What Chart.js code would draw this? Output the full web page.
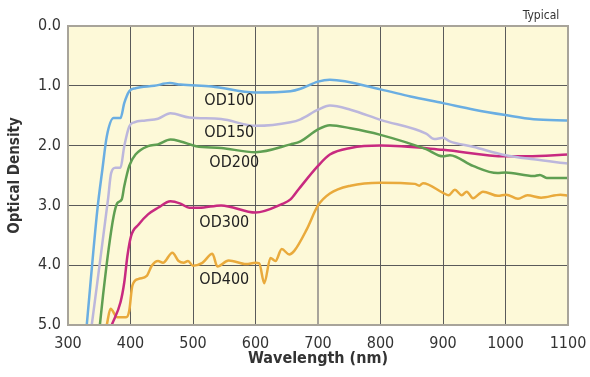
<!DOCTYPE html>
<html>
<head>
<meta charset="utf-8">
<script src="https://cdn.jsdelivr.net/npm/chart.js@4/dist/chart.umd.min.js"></script>
<style>
  body { margin: 0; background: #fff; }
  canvas { display: block; }
</style>
</head>
<body>
<canvas id="odChart" width="590" height="377"></canvas>
<script>
// wavelength (nm) / optical density readings per filter
const od100X = [330, 347, 355, 362, 373, 384, 390, 398, 408, 438, 463, 480, 530, 600, 656, 672, 700, 719, 800, 848, 900, 950, 1000, 1045, 1100];
const od100Y = [5.0, 3.07, 2.4, 1.85, 1.54, 1.54, 1.29, 1.09, 1.04, 1.0, 0.955, 0.98, 1.01, 1.11, 1.09, 1.05, 0.93, 0.9, 1.06, 1.18, 1.29, 1.40, 1.49, 1.56, 1.58];

const od150X = [338, 364, 369, 376, 384, 390, 398, 406, 424, 444, 464, 494, 545, 600, 656, 672, 700, 719, 752, 800, 873, 886, 900, 911, 948, 1000, 1045, 1100];
const od150Y = [5.0, 2.9, 2.46, 2.37, 2.37, 2.01, 1.68, 1.61, 1.58, 1.55, 1.46, 1.53, 1.555, 1.67, 1.61, 1.56, 1.40, 1.33, 1.40, 1.57, 1.80, 1.89, 1.87, 1.93, 2.02, 2.16, 2.23, 2.30];

const od200X = [351, 356, 365, 373, 379, 386, 390, 398, 408, 428, 444, 464, 480, 505, 545, 600, 656, 672, 700, 719, 752, 800, 873, 900, 911, 948, 987, 1000, 1045, 1055, 1066, 1100];
const od200Y = [5.0, 4.51, 3.73, 3.18, 2.96, 2.9, 2.68, 2.34, 2.15, 2.01, 1.98, 1.9, 1.93, 2.01, 2.04, 2.11, 1.98, 1.93, 1.73, 1.66, 1.71, 1.82, 2.06, 2.18, 2.16, 2.34, 2.46, 2.45, 2.51, 2.49, 2.54, 2.54];

const od300X = [370, 384, 390, 395, 401, 413, 428, 444, 464, 480, 494, 510, 545, 600, 642, 656, 669, 700, 719, 752, 800, 900, 1000, 1035, 1100];
const od300Y = [5.0, 4.62, 4.29, 3.85, 3.51, 3.32, 3.15, 3.04, 2.93, 2.97, 3.04, 3.04, 3.0, 3.12, 2.98, 2.9, 2.73, 2.34, 2.15, 2.04, 2.0, 2.07, 2.18, 2.18, 2.15];

const od400X = [362, 368, 379, 393, 398, 403, 413, 426, 434, 444, 452, 467, 477, 485, 492, 500, 515, 531, 539, 557, 585, 600, 606, 614, 624, 632, 642, 654, 662, 682, 700, 719, 752, 800, 855, 862, 868, 900, 909, 919, 930, 938, 948, 964, 988, 1001, 1020, 1035, 1057, 1088, 1100];
const od400Y = [5.0, 4.73, 4.87, 4.87, 4.76, 4.34, 4.23, 4.18, 4.01, 3.93, 3.96, 3.79, 3.93, 3.96, 3.93, 4.01, 3.96, 3.81, 4.02, 3.92, 3.98, 3.96, 3.97, 4.3, 3.88, 3.93, 3.73, 3.82, 3.76, 3.4, 3.0, 2.8, 2.67, 2.62, 2.64, 2.67, 2.63, 2.79, 2.83, 2.74, 2.83, 2.77, 2.88, 2.77, 2.84, 2.82, 2.89, 2.83, 2.87, 2.82, 2.84];

const seriesNames = ['OD100', 'OD150', 'OD200', 'OD300', 'OD400'];
// where each curve name sits (wavelength, density)
const nameAtX = [558, 558, 566, 550, 550];
const nameAtY = [1.25, 1.78, 2.28, 3.3, 4.25];

const xTicks = [300, 400, 500, 600, 700, 800, 900, 1000, 1100];
const yTicks = [0, 1, 2, 3, 4, 5];

const FONT = "'Liberation Sans Narrow', 'DejaVu Sans Condensed', sans-serif";
const colors = ['#6aaee2', '#bcb7dc', '#5f9f52', '#c82a80', '#e9aa3c'];

function toPoints(xs, ys) {
    return xs.map((x, i) => ({ x: x, y: ys[i] }));
}

const allX = [od100X, od150X, od200X, od300X, od400X];
const allY = [od100Y, od150Y, od200Y, od300Y, od400Y];

const datasets = seriesNames.map((name, i) => ({
    label: name,
    data: toPoints(allX[i], allY[i]),
    borderColor: colors[i],
    borderWidth: 2.5,
    pointRadius: 0,
    fill: false,
    cubicInterpolationMode: 'monotone'
}));

// yellow plot background + frame
const frame = {
    id: 'frame',
    beforeDraw(chart) {
        const { ctx, chartArea: a } = chart;
        ctx.save();
        ctx.fillStyle = '#fdf9d8';
        ctx.fillRect(a.left, a.top, a.right - a.left, a.bottom - a.top);
        ctx.restore();
    },
    afterDatasetsDraw(chart) {
        const { ctx, chartArea: a, scales } = chart;
        ctx.save();
        ctx.font = '16px ' + FONT;
        ctx.fillStyle = '#222';
        ctx.textAlign = 'center';
        ctx.textBaseline = 'middle';
        seriesNames.forEach((name, i) => {
            ctx.fillText(name, scales.x.getPixelForValue(nameAtX[i]), scales.y.getPixelForValue(nameAtY[i]));
        });
        ctx.strokeStyle = '#a8a49a';
        ctx.lineWidth = 2;
        ctx.strokeRect(a.left, a.top, a.right - a.left, a.bottom - a.top);
        ctx.font = '12px ' + FONT;
        ctx.fillStyle = '#333';
        ctx.textBaseline = 'alphabetic';
        ctx.fillText('Typical', 541, 19);
        ctx.restore();
    }
};

const ctx = document.getElementById('odChart').getContext('2d');
new Chart(ctx, {
    type: 'line',
    data: { datasets: datasets },
    options: {
        responsive: false,
        animation: false,
        layout: { padding: { top: 26, right: 22 } },
        plugins: { legend: { display: false }, tooltip: { enabled: false } },
        scales: {
            x: {
                type: 'linear',
                min: 300,
                max: 1100,
                afterBuildTicks: s => { s.ticks = xTicks.map(v => ({ value: v })); },
                afterFit: s => { s.height = 52; s.paddingLeft = 0; s.paddingRight = 0; },
                ticks: { font: { size: 16, family: FONT }, color: '#333', padding: 9, maxRotation: 0, callback: v => String(v) },
                grid: {
                    drawTicks: false,
                    color: c => c.tick && c.tick.value === 700 ? '#a8a49a' : '#5a5a5a',
                    lineWidth: c => c.tick && c.tick.value === 700 ? 2 : 1
                },
                border: { display: false },
                title: {
                    display: true,
                    text: 'Wavelength (nm)',
                    font: { size: 16, weight: 'bold', family: FONT },
                    color: '#333',
                    padding: { top: 0, bottom: 9 }
                }
            },
            y: {
                reverse: true,
                min: 0,
                max: 5,
                afterBuildTicks: s => { s.ticks = yTicks.map(v => ({ value: v })); },
                afterFit: s => { s.width = 68; s.paddingTop = 0; s.paddingBottom = 0; },
                ticks: { font: { size: 16, family: FONT }, color: '#333', padding: 7, callback: v => v.toFixed(1) },
                grid: { drawTicks: false, color: '#5a5a5a', lineWidth: 1 },
                border: { display: false },
                title: {
                    display: true,
                    text: 'Optical Density',
                    font: { size: 15, weight: 'bold', family: FONT },
                    color: '#333',
                    padding: { top: 6, bottom: 0 }
                }
            }
        }
    },
    plugins: [frame]
});
</script>
</body>
</html>
